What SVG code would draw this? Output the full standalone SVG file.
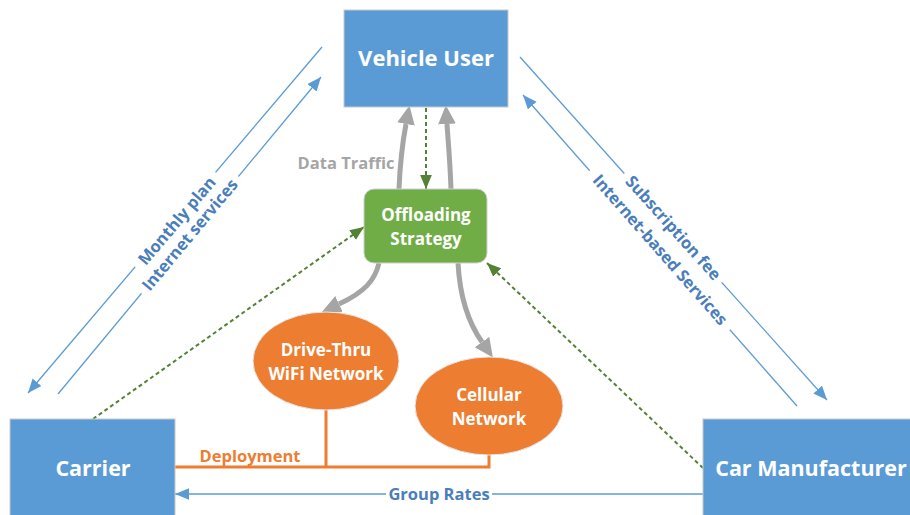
<svg xmlns="http://www.w3.org/2000/svg" width="910" height="515" viewBox="0 0 910 515">
<style>
.box{fill:#5B9BD5;stroke:#c8c8c8;stroke-width:1}
.strat{fill:#70AD47;stroke:#d0d0d0;stroke-width:1}
.net{fill:#ED7D31;stroke:#e6e6e6;stroke-width:1}
.big{font-family:"Open Sans","Liberation Sans",sans-serif;font-weight:bold;fill:#fff;text-anchor:middle}
.blue{fill:none;stroke:#5B9BD5;stroke-width:1.3}
.gray{fill:none;stroke:#A5A5A5;stroke-width:5}
.green{fill:none;stroke:#548235;stroke-width:2;stroke-dasharray:4 3}
.orange{fill:none;stroke:#ED7D31;stroke-width:3}
.lbl{font-family:"Open Sans","Liberation Sans",sans-serif;font-weight:bold;font-size:16.5px;fill:#4A7EBB;text-anchor:middle}
.bg{fill:#fff}
</style>
<defs>
<marker id="ag" markerUnits="userSpaceOnUse" markerWidth="20" markerHeight="20" refX="0" refY="8" orient="auto" viewBox="0 0 18 16">
<path d="M0,0 L17,8 L0,16 z" fill="#A5A5A5"/>
</marker>
<marker id="ab" markerUnits="userSpaceOnUse" markerWidth="14" markerHeight="12" refX="12" refY="5" orient="auto" viewBox="0 0 12 10">
<path d="M0,0 L12,5 L0,10 z" fill="#5B9BD5"/>
</marker>
<marker id="agr" markerUnits="userSpaceOnUse" markerWidth="14" markerHeight="12" refX="12" refY="5" orient="auto" viewBox="0 0 12 10">
<path d="M0,0 L12,5 L0,10 z" fill="#548235"/>
</marker>
</defs>
<rect width="910" height="515" fill="#fff"/>
<g id="connectors">
<path class="gray" d="M399 189 C400 165 403 140 406 124" marker-end="url(#ag)"/>
<path class="gray" d="M451 189 C450 160 448 140 447 124" marker-end="url(#ag)"/>
<path class="gray" d="M379 263 C375 280 365 292 339 304" marker-end="url(#ag)"/>
<path class="gray" d="M458 263 C460 300 470 325 482 342" marker-end="url(#ag)"/>
<path class="green" d="M426 108 L426 189" marker-end="url(#agr)"/>
<path class="green" d="M93 419 L364 227" marker-end="url(#agr)"/>
<path class="green" d="M703 468 L487 263" marker-end="url(#agr)"/>
<path class="orange" d="M175 467 L489 467 L489 455 M326 410 L326 467"/>
<path class="blue" d="M322 47 L28 393" marker-end="url(#ab)"/>
<path class="blue" d="M58 394 L321 77" marker-end="url(#ab)"/>
<path class="blue" d="M520 57 L827 400" marker-end="url(#ab)"/>
<path class="blue" d="M797 406 L523 95" marker-end="url(#ab)"/>
<path class="blue" d="M703 494 L175 494" marker-end="url(#ab)"/>
<g transform="translate(177 221) rotate(-49.6)"><rect class="bg" x="-62" y="-8" width="124" height="16"/><text class="lbl" y="5.5">Monthly plan</text></g>
<g transform="translate(190 235) rotate(-50.3)"><rect class="bg" x="-76" y="-8" width="152" height="16"/><text class="lbl" y="5.5">Internet services</text></g>
<g transform="translate(673 228) rotate(48.2)"><rect class="bg" x="-73" y="-8" width="146" height="16"/><text class="lbl" y="5.5">Subscription fee</text></g>
<g transform="translate(660 250) rotate(48.6)"><rect class="bg" x="-106" y="-8" width="212" height="16"/><text class="lbl" y="5.5">Internet-based Services</text></g>
<rect class="bg" x="386" y="485" width="106" height="18"/>
<text class="lbl" x="439" y="500">Group Rates</text>
<text class="lbl" x="250" y="462" style="fill:#ED7D31">Deployment</text>
<text class="lbl" x="346" y="169" style="fill:#A5A5A5">Data Traffic</text>
</g>
<g id="vehicle-user"><rect class="box" x="344" y="10" width="164" height="97"/><text class="big" x="426" y="66" font-size="22">Vehicle User</text></g>
<g id="offloading"><rect class="strat" x="364" y="189" width="123" height="74" rx="10"/><text class="big" x="426" y="221" font-size="17">Offloading</text><text class="big" x="426" y="245" font-size="17">Strategy</text></g>
<g id="drive-thru"><ellipse class="net" cx="326" cy="361" rx="73" ry="49"/><text class="big" x="326" y="356" font-size="17">Drive-Thru</text><text class="big" x="326" y="380" font-size="17">WiFi Network</text></g>
<g id="cellular"><ellipse class="net" cx="489" cy="406" rx="74" ry="49"/><text class="big" x="489" y="401" font-size="17">Cellular</text><text class="big" x="489" y="425" font-size="17">Network</text></g>
<g id="carrier"><rect class="box" x="10" y="419" width="165" height="100"/><text class="big" x="93" y="476" font-size="21.5">Carrier</text></g>
<g id="car-manufacturer"><rect class="box" x="703" y="419" width="212" height="100"/><text class="big" x="811" y="476" font-size="21.5">Car Manufacturer</text></g>
</svg>
